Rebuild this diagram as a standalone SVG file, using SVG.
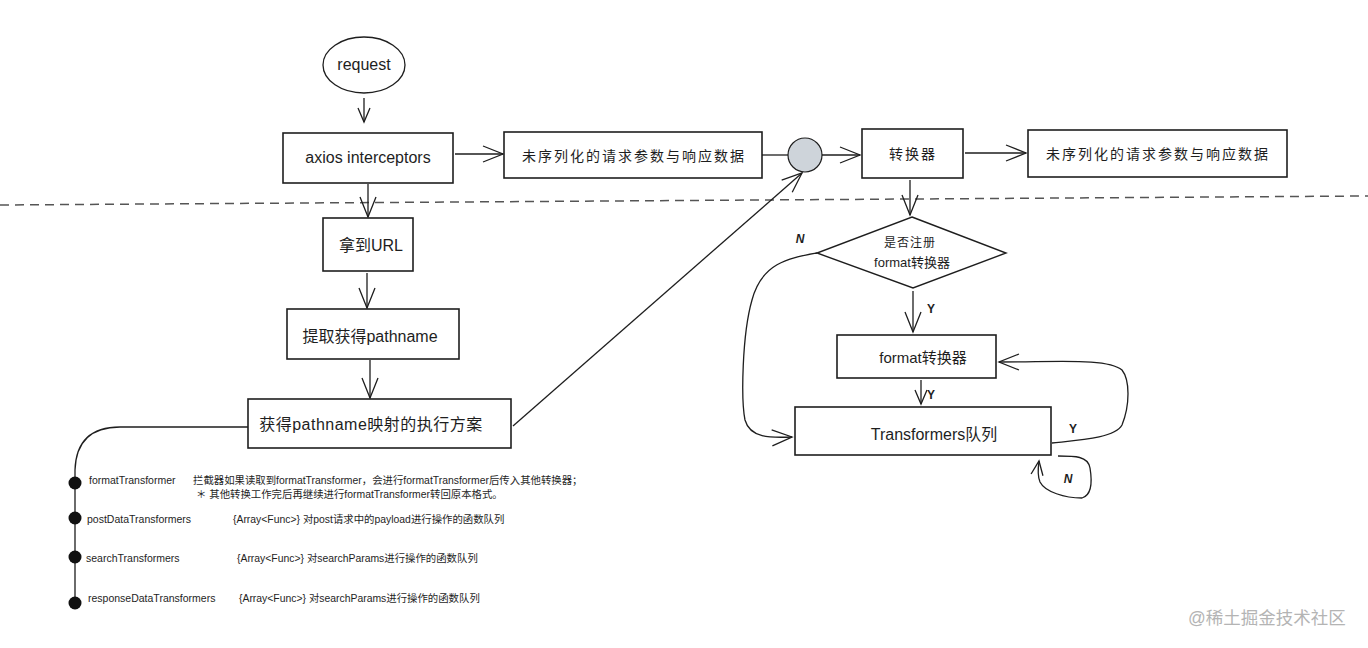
<svg xmlns="http://www.w3.org/2000/svg" width="1368" height="648" viewBox="0 0 1368 648">
<defs>
<style>
.box{fill:#fff;stroke:#1e1e1e;stroke-width:1.6}
.ln{fill:none;stroke:#1e1e1e;stroke-width:1.3}
.t{font-family:"Liberation Sans","Noto Sans CJK SC",sans-serif;fill:#1e1e1e}
.m{font-size:16px;text-anchor:middle}
.c{font-size:14px;text-anchor:middle;letter-spacing:2px}
.s{font-size:10.5px}
.d{font-size:10.4px}
</style>
<marker id="ah" markerUnits="userSpaceOnUse" markerWidth="24" markerHeight="20" refX="21" refY="9" orient="auto">
<path d="M1,1 L21,9 L1,17" fill="none" stroke="#1e1e1e" stroke-width="1.3"/>
</marker>
<marker id="ahs" markerUnits="userSpaceOnUse" markerWidth="18" markerHeight="16" refX="15" refY="7" orient="auto">
<path d="M1,1 L15,7 L1,13" fill="none" stroke="#1e1e1e" stroke-width="1.3"/>
</marker>
</defs>
<rect width="1368" height="648" fill="#fff"/>

<g id="connectors">
<line x1="0" y1="205" x2="1368" y2="196" stroke="#555" stroke-width="1.5" stroke-dasharray="9,6"/>
<line class="ln" x1="364" y1="98" x2="364" y2="122" marker-end="url(#ahs)"/>
<line class="ln" x1="455" y1="154" x2="503" y2="154" marker-end="url(#ah)"/>
<line class="ln" x1="762" y1="155" x2="788" y2="155"/>
<line class="ln" x1="822" y1="155" x2="860" y2="155" marker-end="url(#ah)"/>
<line class="ln" x1="965" y1="153" x2="1026" y2="153" marker-end="url(#ah)"/>
<line class="ln" x1="368" y1="184" x2="368" y2="217" marker-end="url(#ah)"/>
<line class="ln" x1="367" y1="273" x2="367" y2="308" marker-end="url(#ah)"/>
<line class="ln" x1="370" y1="360" x2="370" y2="398" marker-end="url(#ah)"/>
<line class="ln" x1="513" y1="426" x2="802" y2="173" marker-end="url(#ah)"/>
<path class="ln" d="M248,427 L120,427 C92,427 76,440 75,470 L75,606"/>
<line class="ln" x1="910" y1="180" x2="910" y2="215" marker-end="url(#ah)"/>
<path class="ln" d="M817,253 C790,258 762,262 752,300 C742,335 741,400 745,420 C750,438 770,438 792,437" marker-end="url(#ah)"/>
<line class="ln" x1="913" y1="291" x2="913" y2="332" marker-end="url(#ah)"/>
<line class="ln" x1="921" y1="380" x2="921" y2="404" marker-end="url(#ahs)"/>
<path class="ln" d="M1052,443 C1080,440 1115,438 1122,425 C1130,405 1130,380 1122,370 C1108,358 1060,362 999,362" marker-end="url(#ah)"/>
<path class="ln" d="M1058,456 C1075,456 1088,456 1090,468 C1092,480 1092,495 1082,498 C1065,498 1045,492 1040,482 C1037,475 1038,468 1039,461" marker-end="url(#ahs)"/>
<text class="t" x="800" y="243" font-size="12" font-style="italic" font-weight="bold" text-anchor="middle">N</text>
<text class="t" x="931" y="313" font-size="12" font-weight="bold" text-anchor="middle">Y</text>
<text class="t" x="931" y="399" font-size="12" font-weight="bold" text-anchor="middle">Y</text>
<text class="t" x="1073" y="433" font-size="12" font-weight="bold" text-anchor="middle">Y</text>
<text class="t" x="1068" y="483" font-size="12" font-style="italic" font-weight="bold" text-anchor="middle">N</text>
</g>

<g id="node-request">
<ellipse cx="364" cy="65" rx="41" ry="28" fill="#fff" stroke="#1e1e1e" stroke-width="1.3"/>
<text class="t m" x="364" y="70">request</text>
</g>
<g id="node-axios">
<rect class="box" x="283" y="133" width="170" height="50"/>
<text class="t m" x="368" y="163" font-size="16.5">axios interceptors</text>
</g>
<g id="node-raw1">
<rect class="box" x="504" y="132" width="258" height="46"/>
<text class="t c" x="634" y="161">未序列化的请求参数与响应数据</text>
</g>
<g id="node-circle">
<circle cx="805" cy="155" r="17" fill="#ced4da" stroke="#1e1e1e" stroke-width="1.2"/>
</g>
<g id="node-converter">
<rect class="box" x="862" y="129" width="101" height="49"/>
<text class="t c" x="913" y="159">转换器</text>
</g>
<g id="node-raw2">
<rect class="box" x="1028" y="130" width="259" height="47"/>
<text class="t c" x="1158" y="159">未序列化的请求参数与响应数据</text>
</g>
<g id="node-url">
<rect class="box" x="323" y="218" width="90" height="53"/>
<text class="t m" x="371" y="251" font-size="15">拿到URL</text>
</g>
<g id="node-pathname">
<rect class="box" x="287" y="309" width="172" height="50"/>
<text class="t m" x="370" y="342" font-size="15">提取获得pathname</text>
</g>
<g id="node-plan">
<rect class="box" x="248" y="399" width="263" height="49"/>
<text class="t m" x="371" y="430" font-size="15" letter-spacing="0.5">获得pathname映射的执行方案</text>
</g>
<g id="node-decision">
<polygon points="912,217 1006,253 913,288 817,253" fill="#fff" stroke="#1e1e1e" stroke-width="1.4"/>
<text class="t" x="910" y="247" font-size="12" text-anchor="middle" letter-spacing="1">是否注册</text>
<text class="t" x="912" y="267" font-size="13" text-anchor="middle">format转换器</text>
</g>
<g id="node-format">
<rect class="box" x="837" y="335" width="159" height="43"/>
<text class="t" x="923" y="363" font-size="15" text-anchor="middle">format转换器</text>
</g>
<g id="node-queue">
<rect class="box" x="795" y="407" width="256" height="48"/>
<text class="t m" x="934" y="440">Transformers队列</text>
</g>

<g id="node-list">
<circle cx="75" cy="483" r="6.5" fill="#111"/>
<circle cx="75" cy="518" r="6.5" fill="#111"/>
<circle cx="75" cy="557" r="6.5" fill="#111"/>
<circle cx="75" cy="603" r="6.5" fill="#111"/>
<text class="t s" x="89" y="484">formatTransformer</text>
<text class="t d" x="193" y="484">拦截器如果读取到formatTransformer，会进行formatTransformer后传入其他转换器；</text>
<text class="t d" x="196" y="498">＊ 其他转换工作完后再继续进行formatTransformer转回原本格式。</text>
<text class="t s" x="87" y="523">postDataTransformers</text>
<text class="t d" x="233" y="523">{Array&lt;Func&gt;} 对post请求中的payload进行操作的函数队列</text>
<text class="t s" x="86" y="562">searchTransformers</text>
<text class="t d" x="237" y="562">{Array&lt;Func&gt;} 对searchParams进行操作的函数队列</text>
<text class="t s" x="88" y="602">responseDataTransformers</text>
<text class="t d" x="239" y="602">{Array&lt;Func&gt;} 对searchParams进行操作的函数队列</text>
</g>

<text class="t" x="1188" y="624" font-size="17.5" style="fill:#b4b4b4">@稀土掘金技术社区</text>
</svg>
